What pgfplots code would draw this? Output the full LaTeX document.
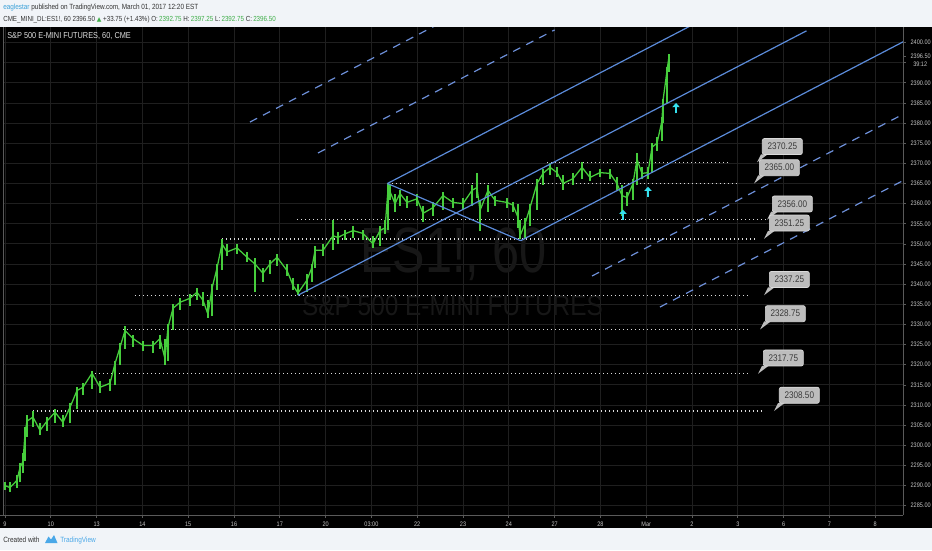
\documentclass[border=0pt]{standalone}
\usepackage{pgfplots}
\pgfplotsset{compat=1.18}
\usepackage{pgfplotstable}
\usepackage{fontspec}
\setmainfont{Liberation Sans}
\newfontfamily\tvf[FakeStretch=0.85]{Liberation Sans}
\newfontfamily\tvw[FakeStretch=0.76]{Liberation Sans}
\newfontfamily\dejavu{DejaVu Sans}
\usetikzlibrary{arrows.meta}
\definecolor{hdrbg}{HTML}{F1F4F8}
\definecolor{hdrtxt}{HTML}{333333}
\definecolor{userblue}{HTML}{3AA0D8}
\definecolor{hdrgreen}{HTML}{3FAE49}
\definecolor{barg}{HTML}{46CD3C}
\definecolor{gridc}{HTML}{1F1F1F}
\definecolor{axc}{HTML}{5A5A5A}
\definecolor{ticktxt}{HTML}{C4C4C4}
\definecolor{chsolid}{HTML}{5B8BD9}
\definecolor{chdash}{HTML}{6D8FD8}
\definecolor{dotc}{HTML}{DCDCDC}
\definecolor{cbox}{HTML}{BDBDBD}
\definecolor{cboxb}{HTML}{DADADA}
\definecolor{cboxt}{HTML}{3A3A3A}
\definecolor{arrowc}{HTML}{35E0EE}
\definecolor{wmark}{HTML}{171717}
\definecolor{tvblue}{HTML}{4AA8E8}

\pgfplotstableread{
x c lo hi
0.000 2290.0 2288.8 2291.0
0.109 2289.5 2288.5 2291.0
0.262 2291.3 2289.5 2292.5
0.328 2294.5 2291.0 2295.5
0.393 2296.0 2293.0 2298.0
0.437 2303.0 2296.0 2304.5
0.480 2306.0 2302.0 2307.5
0.611 2307.0 2304.5 2308.5
0.764 2303.7 2302.5 2305.5
0.917 2306.0 2303.5 2307.0
1.092 2308.2 2305.5 2309.0
1.266 2305.7 2304.5 2307.5
1.419 2309.4 2305.5 2310.5
1.572 2313.6 2309.0 2314.5
1.703 2314.4 2312.5 2315.5
1.900 2317.9 2314.0 2318.5
2.074 2314.4 2313.0 2316.0
2.293 2315.4 2313.5 2316.5
2.402 2320.3 2315.0 2321.0
2.511 2324.3 2320.0 2325.5
2.620 2328.5 2324.0 2329.5
2.795 2326.5 2324.5 2327.5
3.013 2324.8 2323.5 2326.0
3.231 2324.8 2323.0 2326.0
3.384 2326.5 2324.0 2327.5
3.493 2321.5 2320.0 2326.5
3.559 2329.3 2321.0 2330.0
3.668 2334.0 2328.5 2335.0
3.821 2335.5 2333.5 2336.5
4.039 2336.5 2334.5 2337.5
4.192 2338.0 2336.0 2339.0
4.323 2336.0 2334.5 2338.0
4.432 2332.5 2331.5 2336.0
4.520 2339.0 2332.0 2340.0
4.629 2344.0 2338.5 2345.0
4.738 2350.0 2343.5 2351.25
4.847 2348.0 2347.0 2350.0
5.066 2349.0 2347.5 2350.0
5.284 2346.7 2345.5 2348.0
5.459 2345.0 2338.0 2346.5
5.633 2342.7 2340.5 2344.0
5.786 2345.0 2342.5 2346.0
5.939 2346.7 2344.5 2347.5
6.157 2343.4 2342.0 2345.0
6.288 2339.7 2338.5 2341.5
6.397 2337.8 2337.25 2340.0
6.594 2341.0 2338.0 2342.5
6.703 2344.2 2340.5 2345.0
6.769 2348.4 2344.0 2349.5
6.943 2348.4 2347.0 2350.0
7.162 2352.0 2348.5 2356.0
7.271 2351.6 2350.0 2353.0
7.424 2352.5 2351.0 2353.5
7.598 2353.3 2351.5 2354.5
7.817 2352.6 2351.0 2353.5
8.035 2350.0 2349.0 2352.0
8.188 2353.3 2349.5 2354.5
8.297 2354.0 2352.5 2356.0
8.362 2363.3 2353.5 2365.0
8.406 2363.0 2361.0 2364.5
8.515 2360.0 2358.0 2362.5
8.624 2362.5 2359.5 2363.5
8.777 2360.3 2359.0 2362.0
8.996 2361.2 2359.5 2362.5
9.127 2357.6 2355.4 2359.5
9.345 2359.0 2357.0 2360.5
9.563 2362.0 2358.5 2363.0
9.782 2360.3 2359.0 2361.5
10.000 2360.0 2358.5 2361.5
10.197 2363.3 2359.5 2364.5
10.306 2364.0 2361.5 2367.5
10.371 2358.3 2353.3 2361.0
10.546 2363.3 2358.0 2364.5
10.699 2360.8 2359.5 2362.0
10.961 2360.3 2359.0 2361.5
11.092 2359.6 2358.0 2360.5
11.201 2356.6 2354.0 2360.0
11.245 2352.0 2351.25 2356.0
11.354 2355.0 2351.5 2356.5
11.463 2359.0 2354.5 2360.0
11.616 2365.0 2358.5 2366.0
11.747 2367.5 2364.5 2368.5
11.900 2369.0 2367.0 2370.0
12.052 2367.7 2366.5 2369.0
12.183 2365.0 2363.5 2367.0
12.402 2366.2 2364.5 2367.5
12.598 2369.0 2366.0 2370.25
12.773 2366.5 2365.5 2368.0
12.991 2367.7 2366.5 2368.5
13.210 2367.5 2366.0 2368.5
13.362 2365.0 2363.5 2366.5
13.472 2362.0 2357.0 2364.5
13.581 2361.5 2359.5 2363.0
13.712 2365.0 2361.0 2366.0
13.799 2371.0 2364.5 2372.5
13.908 2367.5 2366.0 2369.0
14.039 2367.7 2366.0 2369.0
14.127 2374.0 2367.5 2375.0
14.236 2375.0 2373.0 2376.5
14.345 2380.6 2375.5 2381.5
14.367 2385.6 2380.0 2386.0
14.454 2393.0 2385.0 2394.0
14.498 2396.5 2392.75 2397.25
}\bars

\newcommand\callout[3]{%
  \fill[cbox] (axis cs:#1,#2) -- ++(3pt,6pt) -- ++(5pt,0pt) -- cycle;
  \node[anchor=south west, xshift=3.75pt, yshift=5.6pt, fill=cbox, draw=cboxb, line width=0.5pt,
        rounded corners=1.5pt, minimum width=30pt, minimum height=12pt, inner sep=1pt,
        text=cboxt, font=\tvf\fontsize{7.2pt}{8pt}\selectfont] at (axis cs:#1,#2) {#3};
}
\newcommand\hlevel[3]{%
  \draw[dotc, line width=1pt, dash pattern=on 1pt off 2pt] (axis cs:#1,#3) -- (axis cs:#2,#3);
}

\begin{document}
\begin{tikzpicture}
\begin{scope}[x=0.75pt,y=-0.75pt]
\fill[hdrbg] (0,0) rectangle (932,550);
\fill[black] (0,27) rectangle (932,528);
\end{scope}
\begin{axis}[
  at={(2.25pt,-386.25pt)}, anchor=south west,
  scale only axis, width=675pt, height=366pt,
  xmin=-0.0437, xmax=19.607, ymin=2282.69, ymax=2403.85,
  axis line style={draw=none},
  xtick={0,...,19},
  xticklabels={9,10,13,14,15,16,17,20,03:00,22,23,24,27,28,Mar,2,3,6,7,8},
  ytick={2285,2290,...,2400},
  yticklabels={2285.00,2290.00,2295.00,2300.00,2305.00,2310.00,2315.00,2320.00,2325.00,2330.00,2335.00,2340.00,2345.00,2350.00,2355.00,2360.00,2365.00,2370.00,2375.00,2380.00,2385.00,2390.00,{},2400.00},
  extra y ticks={2396.5}, extra y tick labels={2396.50},
  extra y tick style={grid=none},
  xtick pos=left, ytick pos=right, yticklabel pos=right,
  tick align=outside, major tick length=2.2pt,
  tick style={draw=axc, line width=0.5pt},
  ticklabel style={font=\tvf\fontsize{4.9pt}{5.5pt}\selectfont, text=ticktxt},
  xticklabel style={yshift=0.5pt},
  grid=major, major grid style={draw=gridc, line width=0.6pt},
]
% watermark
\node[anchor=base, text=wmark, font=\tvw\fontsize{48pt}{50pt}\selectfont] at (axis cs:9.793,2342.78) {ES1!, 60};
\node[anchor=base, text=wmark, font=\tvf\fontsize{21.5pt}{23pt}\selectfont] at (axis cs:9.771,2332.1) {S\&P 500 E-MINI FUTURES};

% dashed parallel lines
\addplot[chdash, line width=0.9pt, dash pattern=on 6pt off 5pt] coordinates {(5.349,2380.26) (12.0,2419.59)};
\addplot[chdash, line width=0.9pt, dash pattern=on 6pt off 5pt] coordinates {(6.834,2372.57) (12.0,2403.12)};
\addplot[chdash, line width=0.9pt, dash pattern=on 6pt off 5pt] coordinates {(12.817,2342.03) (20.0,2384.50)};
\addplot[chdash, line width=0.9pt, dash pattern=on 6pt off 5pt] coordinates {(14.301,2334.33) (20.0,2368.03)};

% horizontal dotted levels
\hlevel{11.834}{15.830}{2370.25}
\hlevel{8.362}{15.983}{2365.00}
\hlevel{6.376}{16.638}{2356.00}
\hlevel{4.738}{16.419}{2351.25}
\hlevel{2.838}{16.266}{2337.25}
\hlevel{2.576}{16.266}{2328.75}
\hlevel{1.965}{16.223}{2317.75}
\hlevel{0.611}{16.550}{2308.50}

% price bars
\addplot[barg, line width=0.9pt, draw=none, forget plot,
  error bars/.cd, y dir=both, y explicit, error mark=none,
  error bar style={barg, line width=0.9pt}]
  table[x=x, y=c, y error plus expr=\thisrow{hi}-\thisrow{c}, y error minus expr=\thisrow{c}-\thisrow{lo}] {\bars};
\addplot[barg, line width=0.95pt] table[x=x, y=c] {\bars};

% channel
\addplot[chsolid, line width=0.9pt] coordinates {(8.35,2365.0) (15.5,2407.28)};
\addplot[chsolid, line width=0.9pt] coordinates {(6.397,2337.25) (12.5,2373.34) (17.5,2402.9)};
\addplot[chsolid, line width=0.9pt] coordinates {(11.26,2350.8) (20.0,2402.48)};
\addplot[chsolid, line width=0.9pt] coordinates {(8.35,2365.0) (11.26,2350.8)};

% arrows
\draw[arrowc, line width=1.6pt, -{Triangle[width=5.5pt,length=3.2pt]}] (axis cs:13.493,2355.9) -- (axis cs:13.493,2358.5);
\draw[arrowc, line width=1.6pt, -{Triangle[width=5.5pt,length=3.2pt]}] (axis cs:14.039,2361.6) -- (axis cs:14.039,2364.2);
\draw[arrowc, line width=1.6pt, -{Triangle[width=5.5pt,length=3.2pt]}] (axis cs:14.651,2382.4) -- (axis cs:14.651,2385.0);

% callouts
\callout{16.419}{2370.25}{2370.25}
\callout{16.354}{2365.00}{2365.00}
\callout{16.638}{2356.00}{2356.00}
\callout{16.572}{2351.25}{2351.25}
\callout{16.572}{2337.25}{2337.25}
\callout{16.485}{2328.75}{2328.75}
\callout{16.441}{2317.75}{2317.75}
\callout{16.790}{2308.50}{2308.50}
\end{axis}
\begin{scope}[x=0.75pt,y=-0.75pt]
% borders
\draw[axc, line width=0.75pt] (3.5,27) -- (3.5,515);
\draw[axc, line width=0.75pt] (0,515) -- (903,515);
\draw[axc, line width=0.75pt] (903,27) -- (903,515);
% countdown
\node[anchor=base west, inner sep=0pt, text=ticktxt, font=\tvf\fontsize{4.9pt}{5.5pt}\selectfont] at (913,66) {39:12};
% chart title inside
\node[anchor=base west, inner sep=0pt, text=dotc, font=\tvf\fontsize{6.5pt}{7pt}\selectfont] at (7,38) {S\&P 500 E-MINI FUTURES, 60, CME};
% header
\node[anchor=base west, inner sep=0pt, text=hdrtxt, font=\tvf\fontsize{5.65pt}{6.5pt}\selectfont] at (3,9.5)
  {\textcolor{userblue}{eaglestar} published on TradingView.com, March 01, 2017 12:20 EST};
\node[anchor=base west, inner sep=0pt, text=hdrtxt, font=\tvf\fontsize{5.5pt}{6.5pt}\selectfont] at (3,21.5)
  {CME\_MINI\_DL:ES1!, 60\ 2396.50 \textcolor{hdrgreen}{{\dejavu\fontsize{4.5pt}{5pt}\selectfont ▲}} +33.75 (+1.43\%)\ O:\,\textcolor{hdrgreen}{2392.75}\ H:\,\textcolor{hdrgreen}{2397.25}\ L:\,\textcolor{hdrgreen}{2392.75}\ C:\,\textcolor{hdrgreen}{2396.50}};
% footer
\node[anchor=base west, inner sep=0pt, text=hdrtxt, font=\tvf\fontsize{5.7pt}{6.5pt}\selectfont] at (3,542) {Created with};
\fill[tvblue] (45,543) -- (48.5,536.5) -- (51,539.5) -- (54,535) -- (57.5,543) -- cycle;
\node[anchor=base west, inner sep=0pt, text=tvblue, font=\tvf\fontsize{5.7pt}{6.5pt}\selectfont] at (60,542) {TradingView};
\pgfresetboundingbox
\path (0,0) rectangle (932,550);
\end{scope}
\end{tikzpicture}
\end{document}
